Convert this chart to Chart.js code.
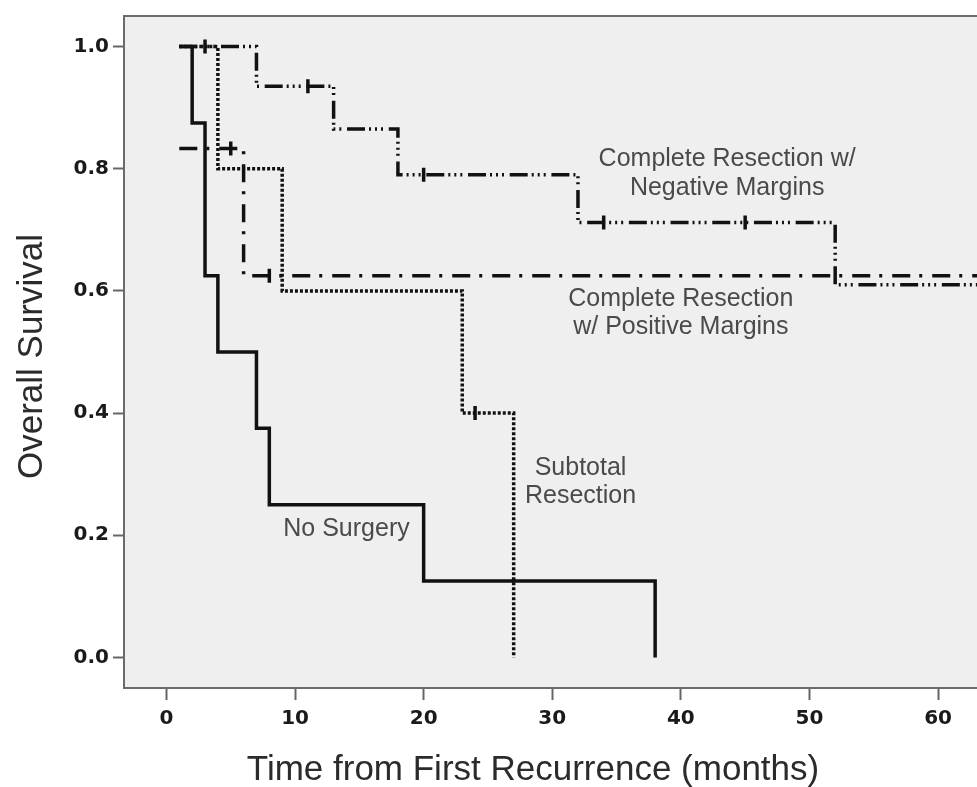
<!DOCTYPE html>
<html>
<head>
<meta charset="utf-8">
<title>Overall Survival by Treatment after First Recurrence</title>
<script src="https://cdn.jsdelivr.net/npm/chart.js@4"></script>
<style>
  html, body { margin: 0; padding: 0; background: #ffffff; overflow: hidden; }
  #wrap { width: 977px; height: 787px; overflow: hidden; }
  canvas { display: block; }
</style>
</head>
<body>
<div id="wrap"><canvas id="km" width="1000" height="787"></canvas></div>
<script>
// Kaplan-Meier steps: month at which survival changes, and survival from then on
const noSurgeryMonths   = [1, 2, 3, 4, 7, 8, 20, 38];
const noSurgerySurvival = [1, 0.875, 0.625, 0.5, 0.375, 0.25, 0.125, 0];
const noSurgeryCensored = [];

const subtotalMonths   = [1, 4, 9, 23, 27];
const subtotalSurvival = [1, 0.8, 0.6, 0.4, 0];
const subtotalCensored = [24];

const positiveMonths   = [1, 6, 64];
const positiveSurvival = [0.833, 0.625, 0.625];
const positiveCensored = [5, 8];

const negativeMonths   = [1, 7, 13, 18, 32, 52, 64];
const negativeSurvival = [1, 0.935, 0.865, 0.79, 0.712, 0.61, 0.61];
const negativeCensored = [3, 11, 20, 34, 45];

const xTickValues = [0, 10, 20, 30, 40, 50, 60];
const yTickValues = [0, 0.2, 0.4, 0.6, 0.8, 1.0];

const xAxisTitle = 'Time from First Recurrence (months)';
const yAxisTitle = 'Overall Survival';

// Curve captions, anchored in data units (month, survival) at the first line's baseline
const curveLabels = [
  { lines: ['Complete Resection w/', 'Negative Margins'], month: 43.6, surv: 0.804 },
  { lines: ['Complete Resection', 'w/ Positive Margins'], month: 40.0, surv: 0.576 },
  { lines: ['Subtotal', 'Resection'], month: 32.2, surv: 0.299 },
  { lines: ['No Surgery'], month: 14.0, surv: 0.1985 }
];

const INK = '#111111';
const SANS = '"Liberation Sans", Arial, Helvetica, sans-serif';

function steps(months, surv) {
  return months.map((m, i) => ({ x: m, y: surv[i] }));
}
function survivalAt(months, surv, t) {
  let v = surv[0];
  for (let i = 0; i < months.length; i++) if (months[i] <= t) v = surv[i];
  return v;
}
function censorMarks(months, surv, censored) {
  return censored.map(t => ({ x: t, y: survivalAt(months, surv, t) }));
}

function curve(months, surv, dash) {
  return {
    type: 'line',
    data: steps(months, surv),
    stepped: 'before',
    borderColor: INK,
    borderWidth: 3.5,
    borderDash: dash,
    borderCapStyle: 'butt',
    borderJoinStyle: 'miter',
    pointRadius: 0,
    fill: false,
    tension: 0
  };
}
function marks(months, surv, censored) {
  return {
    type: 'line',
    data: censorMarks(months, surv, censored),
    showLine: false,
    pointStyle: 'line',
    pointRotation: 90,
    pointRadius: 7,
    pointBorderWidth: 3.5,
    pointBorderColor: INK,
    pointBackgroundColor: INK
  };
}

const dashNegative = [18, 4, 2, 4, 2, 4, 2, 5.7];
const dashPositive = [18, 9, 3, 10];
const dashSubtotal = [3, 2];

const plotFrame = {
  id: 'plotFrame',
  beforeDraw(chart) {
    const { ctx, chartArea: a } = chart;
    ctx.save();
    ctx.fillStyle = '#ffffff';
    ctx.fillRect(0, 0, chart.width, chart.height);
    ctx.fillStyle = '#efefef';
    ctx.fillRect(a.left, a.top, a.right - a.left, a.bottom - a.top);
    ctx.restore();
  },
  afterDraw(chart) {
    const { ctx, chartArea: a } = chart;
    const xs = chart.scales.x, ys = chart.scales.y;
    ctx.save();
    ctx.strokeStyle = '#6b6b6b';
    ctx.lineWidth = 2;
    ctx.strokeRect(a.left, a.top, a.right - a.left, a.bottom - a.top);

    ctx.font = '25px ' + SANS;
    ctx.fillStyle = '#4a4a4a';
    ctx.textAlign = 'center';
    ctx.textBaseline = 'alphabetic';
    curveLabels.forEach(l => {
      const px = xs.getPixelForValue(l.month);
      const py = ys.getPixelForValue(l.surv);
      l.lines.forEach((t, i) => ctx.fillText(t, px, py + i * 28.4));
    });

    ctx.fillStyle = '#2b2b2b';
    ctx.font = '35px ' + SANS;
    ctx.fillText(xAxisTitle, 533, 780);
    ctx.translate(42, 356.5);
    ctx.rotate(-Math.PI / 2);
    ctx.fillText(yAxisTitle, 0, 0);
    ctx.restore();
  }
};

const tickFont = { family: '"DejaVu Sans", Verdana, sans-serif', size: 20, weight: 'bold' };

new Chart(document.getElementById('km'), {
  type: 'line',
  data: {
    datasets: [
      curve(negativeMonths, negativeSurvival, dashNegative),
      marks(negativeMonths, negativeSurvival, negativeCensored),
      curve(positiveMonths, positiveSurvival, dashPositive),
      marks(positiveMonths, positiveSurvival, positiveCensored),
      curve(subtotalMonths, subtotalSurvival, dashSubtotal),
      marks(subtotalMonths, subtotalSurvival, subtotalCensored),
      curve(noSurgeryMonths, noSurgerySurvival, []),
      marks(noSurgeryMonths, noSurgerySurvival, noSurgeryCensored)
    ]
  },
  options: {
    responsive: false,
    animation: false,
    devicePixelRatio: 1,
    layout: { padding: { top: 13, right: 4, left: 0, bottom: 0 } },
    plugins: { legend: { display: false }, tooltip: { enabled: false }, title: { display: false } },
    scales: {
      x: {
        type: 'linear',
        min: -3.3,
        max: 64,
        afterBuildTicks: s => { s.ticks = xTickValues.map(v => ({ value: v })); },
        afterFit: s => { s.height = 99; },
        ticks: {
          font: tickFont, color: '#1a1a1a', padding: 7, maxRotation: 0, autoSkip: false,
          callback: v => String(v)
        },
        grid: { display: true, drawOnChartArea: false, drawTicks: true, tickLength: 12, tickWidth: 2, tickColor: '#666666' },
        border: { display: false }
      },
      y: {
        type: 'linear',
        min: -0.05,
        max: 1.05,
        afterBuildTicks: s => { s.ticks = yTickValues.map(v => ({ value: v })); },
        afterFit: s => { s.width = 124; },
        ticks: {
          font: tickFont, color: '#1a1a1a', padding: 4, autoSkip: false,
          callback: v => Number(v).toFixed(1)
        },
        grid: { display: true, drawOnChartArea: false, drawTicks: true, tickLength: 11, tickWidth: 2, tickColor: '#666666' },
        border: { display: false }
      }
    }
  },
  plugins: [plotFrame]
});
</script>
</body>
</html>
